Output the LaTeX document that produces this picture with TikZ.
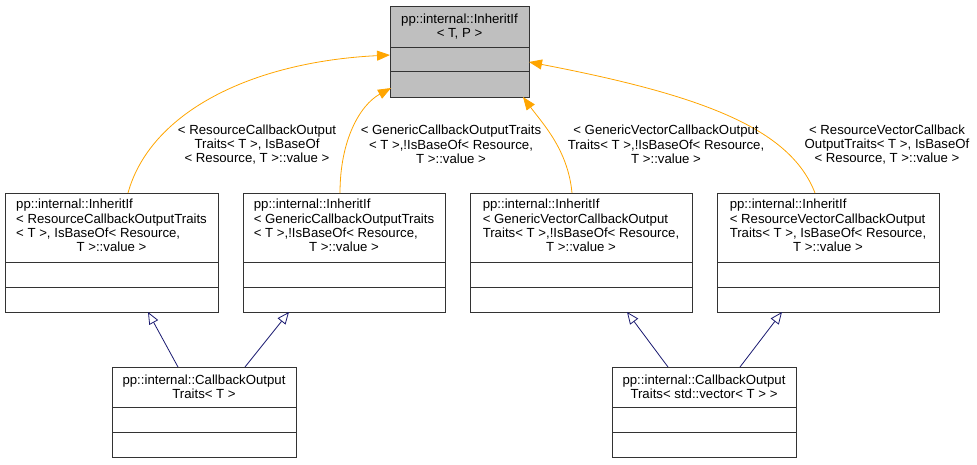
\documentclass[tikz,border=0pt]{standalone}
\usepackage{fontspec}
\setmainfont{Liberation Sans}
\usetikzlibrary{arrows.meta,positioning}
\definecolor{edgeorange}{HTML}{FFA500}
\definecolor{edgeblue}{HTML}{191970}
\definecolor{basegray}{HTML}{BFBFBF}

\begin{document}
\begin{tikzpicture}[x=1pt, y=-1pt, font=\fontsize{13.2}{14.4}\selectfont,
    cls/.style={draw=black!80, line width=1pt, fill=white, outer sep=0pt, inner sep=0pt, minimum width=#1},
    comp/.style={cls=#1, minimum height=25pt},
    tmpl/.style={-{Triangle[length=13pt,width=10pt]}, edgeorange, line width=0.8pt},
    inh/.style={-{Triangle[open,length=12pt,width=10pt,fill=white]}, edgeblue, line width=0.8pt},
    lbl/.style={align=center, inner sep=0pt}]

  \useasboundingbox (0,0) rectangle (977,464);

  % base class
  \node[cls=139pt, fill=basegray, minimum height=41pt, align=center] (base) at (459.5,26.5)
    {pp::internal::InheritIf\\< T, P >};
  \node[comp=139pt, fill=basegray, minimum height=24pt, below=0pt of base] (base-a) {};
  \node[comp=139pt, fill=basegray, minimum height=26pt, below=0pt of base-a] (base-m) {};

  % template instances
  \node[cls=213pt, minimum height=69pt] (rcot) at (111.5,227.5)
    {\begin{tabular}{@{}l@{}}pp::internal::InheritIf\\< ResourceCallbackOutputTraits\\< T >, IsBaseOf< Resource,\\\multicolumn{1}{@{}c@{}}{T >::value >}\end{tabular}};
  \node[comp=213pt, below=0pt of rcot] (rcot-a) {};
  \node[comp=213pt, below=0pt of rcot-a] (rcot-m) {};

  \node[cls=202pt, minimum height=69pt] (gcot) at (344,227.5)
    {\begin{tabular}{@{}l@{}}pp::internal::InheritIf\\< GenericCallbackOutputTraits\\< T >,!IsBaseOf< Resource,\\\multicolumn{1}{@{}c@{}}{T >::value >}\end{tabular}};
  \node[comp=202pt, below=0pt of gcot] (gcot-a) {};
  \node[comp=202pt, below=0pt of gcot-a] (gcot-m) {};

  \node[cls=222pt, minimum height=69pt] (gvcot) at (581,227.5)
    {\begin{tabular}{@{}l@{}}pp::internal::InheritIf\\< GenericVectorCallbackOutput\\Traits< T >,!IsBaseOf< Resource,\\\multicolumn{1}{@{}c@{}}{T >::value >}\end{tabular}};
  \node[comp=222pt, below=0pt of gvcot] (gvcot-a) {};
  \node[comp=222pt, below=0pt of gvcot-a] (gvcot-m) {};

  \node[cls=222pt, minimum height=69pt] (rvcot) at (828,227.5)
    {\begin{tabular}{@{}l@{}}pp::internal::InheritIf\\< ResourceVectorCallbackOutput\\Traits< T >, IsBaseOf< Resource,\\\multicolumn{1}{@{}c@{}}{T >::value >}\end{tabular}};
  \node[comp=222pt, below=0pt of rvcot] (rvcot-a) {};
  \node[comp=222pt, below=0pt of rvcot-a] (rvcot-m) {};

  % derived classes
  \node[cls=184pt, minimum height=40pt, align=center] (cot) at (204,387)
    {pp::internal::CallbackOutput\\Traits< T >};
  \node[comp=184pt, below=0pt of cot] (cot-a) {};
  \node[comp=184pt, below=0pt of cot-a] (cot-m) {};

  \node[cls=184pt, minimum height=40pt, align=center] (cotv) at (704,387)
    {pp::internal::CallbackOutput\\Traits< std::vector< T > >};
  \node[comp=184pt, below=0pt of cotv] (cotv-a) {};
  \node[comp=184pt, below=0pt of cotv-a] (cotv-m) {};

  % template edges
  \draw[tmpl] ([xshift=16.5pt]rcot.north) .. controls +(22,-80) and +(-140,7) .. ([yshift=4pt]base-a.west);
  \draw[tmpl] ([xshift=-4pt]gcot.north) .. controls +(0,-53) and +(-31,17) .. ([xshift=1pt,yshift=-4pt]base-m.west);
  \draw[tmpl] ([xshift=-9pt]gvcot.north) .. controls +(-4,-43) and +(20,27) .. ([xshift=-6pt]base-m.south east);
  \draw[tmpl] ([xshift=-13pt]rvcot.north) .. controls +(-25,-65) and +(172,33) .. ([yshift=-3pt]base-a.east);

  \node[lbl] (l-rcot) at (257,144.5) {< ResourceCallbackOutput\\Traits< T >, IsBaseOf\\< Resource, T >::value >};
  \node[lbl] (l-gcot) at (451,144.5) {< GenericCallbackOutputTraits\\< T >,!IsBaseOf< Resource,\\T >::value >};
  \node[lbl] (l-gvcot) at (666,144.5) {< GenericVectorCallbackOutput\\Traits< T >,!IsBaseOf< Resource,\\T >::value >};
  \node[lbl] (l-rvcot) at (887,144.5) {< ResourceVectorCallback\\OutputTraits< T >, IsBaseOf\\< Resource, T >::value >};

  % inheritance edges
  \draw[inh] ([xshift=-26pt]cot.north) -- ([xshift=36.5pt]rcot-m.south);
  \draw[inh] ([xshift=41pt]cot.north) -- ([xshift=-55pt]gcot-m.south);
  \draw[inh] ([xshift=-36pt]cotv.north) -- ([xshift=46pt]gvcot-m.south);
  \draw[inh] ([xshift=36pt]cotv.north) -- ([xshift=-46pt]rvcot-m.south);
\end{tikzpicture}
\end{document}
